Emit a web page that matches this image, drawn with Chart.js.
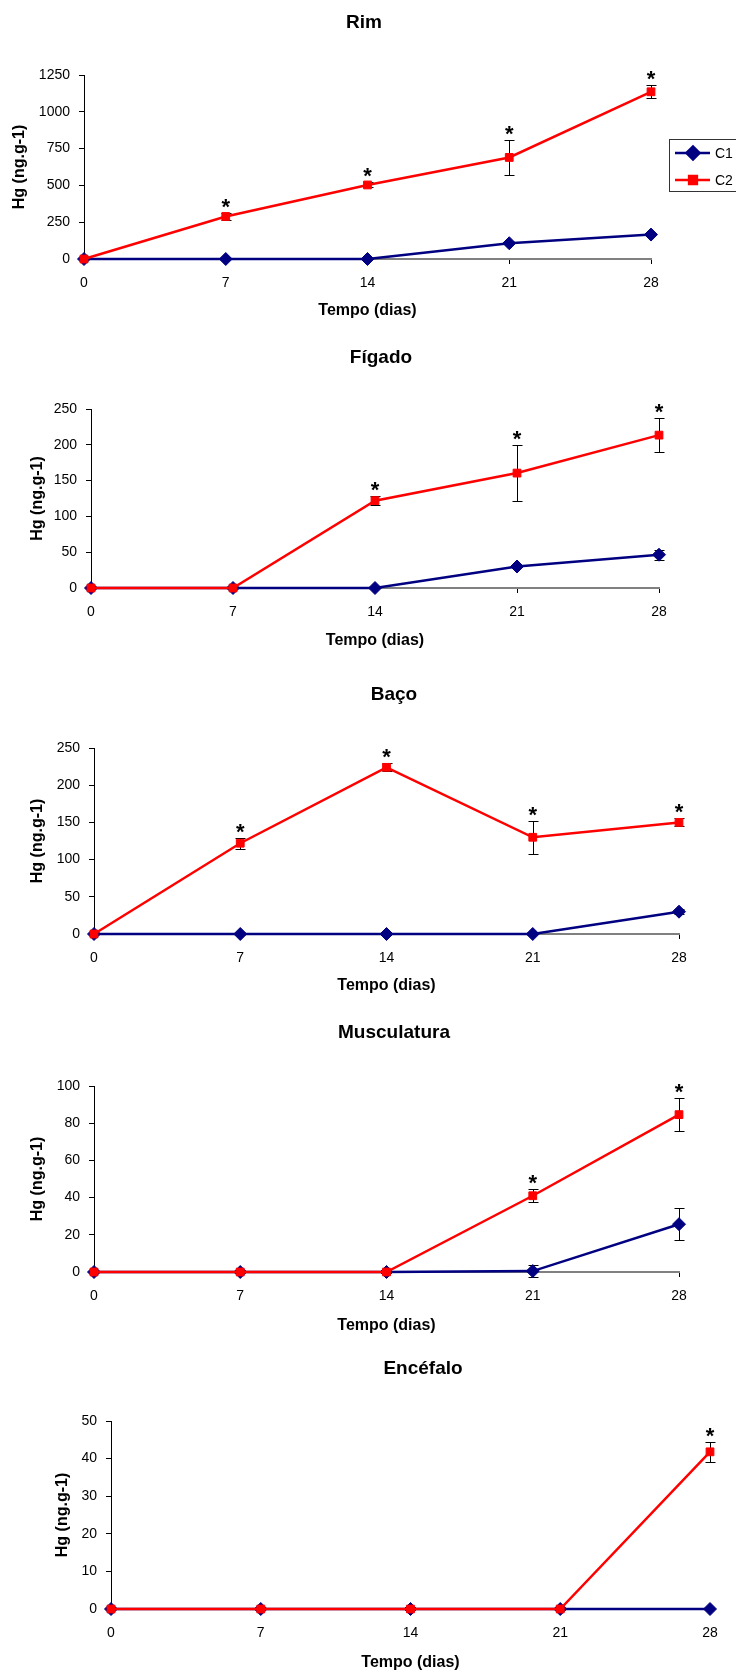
<!DOCTYPE html>
<html>
<head>
<meta charset="utf-8">
<script src="https://cdn.jsdelivr.net/npm/chart.js@4.4.1/dist/chart.umd.min.js"></script>
<style>
  html, body { margin: 0; padding: 0; background: #fff; }
  #page { position: relative; width: 736px; height: 1671px; overflow: hidden; }
  #page canvas { position: absolute; left: 0; }
</style>
</head>
<body>
<div id="page">
  <canvas id="rim"></canvas>
  <canvas id="figado"></canvas>
  <canvas id="baco"></canvas>
  <canvas id="musc"></canvas>
  <canvas id="encef"></canvas>
</div>
<script>
const days = ['0', '7', '14', '21', '28'];

// Rim
const rimC1 = [0, 0, 0, 107, 166];
const rimC2 = [0, 289, 503, 690, 1136];
const rimErr1 = [0, 0, 0, 0, 0];
const rimErr2 = [0, 23, 17, 118, 43];
const rimStars = [false, true, true, true, true];
const rimTicks = [0, 250, 500, 750, 1000, 1250];

// Fígado
const figC1 = [0, 0, 0, 30, 46.5];
const figC2 = [0, 0, 122, 160.5, 213.5];
const figErr1 = [0, 0, 0, 0, 7];
const figErr2 = [0, 0, 6.5, 39, 24];
const figStars = [false, false, true, true, true];
const figTicks = [0, 50, 100, 150, 200, 250];

// Baço
const bacC1 = [0, 0, 0, 0, 30];
const bacC2 = [0, 122, 224, 130, 150];
const bacErr1 = [0, 0, 0, 0, 3];
const bacErr2 = [0, 7.5, 5.5, 22.5, 5.5];
const bacStars = [false, true, true, true, true];
const bacTicks = [0, 50, 100, 150, 200, 250];

// Musculatura
const musC1 = [0, 0, 0, 0.5, 25.7];
const musC2 = [0, 0, 0, 41, 84.6];
const musErr1 = [0, 0, 0, 3.4, 8.5];
const musErr2 = [0, 0, 0, 3.5, 8.9];
const musStars = [false, false, false, true, true];
const musTicks = [0, 20, 40, 60, 80, 100];

// Encéfalo
const encC1 = [0, 0, 0, 0, 0];
const encC2 = [0, 0, 0, 0, 41.8];
const encErr1 = [0, 0, 0, 0, 0];
const encErr2 = [0, 0, 0, 0, 2.7];
const encStars = [false, false, false, false, true];
const encTicks = [0, 10, 20, 30, 40, 50];

const seriesNames = ['C1', 'C2'];
const NAVY = '#000080';
const RED = '#ff0000';
const FONT = "'Liberation Sans', Arial, sans-serif";

Chart.defaults.font.family = FONT;
Chart.defaults.color = '#000';

// error bars under the markers, asterisks above them
const errorBars = {
    id: 'errorBars',
    beforeDatasetsDraw(chart) {
        const { ctx, scales: { x, y } } = chart;
        ctx.save();
        ctx.strokeStyle = '#000';
        ctx.lineWidth = 1;
        chart.data.datasets.forEach((ds) => {
            (ds.errors || []).forEach((e, i) => {
                if (!e) return;
                const px = Math.round(x.getPixelForValue(i)) + 0.5;
                const top = Math.round(y.getPixelForValue(ds.data[i] + e)) + 0.5;
                const bot = Math.round(y.getPixelForValue(ds.data[i] - e)) + 0.5;
                ctx.beginPath();
                ctx.moveTo(px, top); ctx.lineTo(px, bot);
                ctx.moveTo(px - 5, top); ctx.lineTo(px + 5, top);
                ctx.moveTo(px - 5, bot); ctx.lineTo(px + 5, bot);
                ctx.stroke();
            });
        });
        ctx.restore();
    },
    afterDatasetsDraw(chart) {
        const { ctx, scales: { x, y } } = chart;
        ctx.save();
        ctx.fillStyle = '#000';
        ctx.font = 'bold 22px ' + FONT;
        ctx.textAlign = 'center';
        ctx.textBaseline = 'alphabetic';
        chart.data.datasets.forEach((ds) => {
            (ds.stars || []).forEach((s, i) => {
                if (!s) return;
                const e = (ds.errors && ds.errors[i]) || 0;
                ctx.fillText('*', x.getPixelForValue(i), y.getPixelForValue(ds.data[i] + e) + 1);
            });
        });
        ctx.restore();
    },
};

// boxed legend with line + marker, like the spreadsheet one
const boxLegend = {
    id: 'boxLegend',
    afterDraw(chart, args, opts) {
        if (!opts.show) return;
        const { ctx } = chart;
        const { left, top, bottom } = opts;
        ctx.save();
        ctx.strokeStyle = '#333';
        ctx.lineWidth = 1;
        ctx.strokeRect(left + 0.5, top + 0.5, 100, bottom - top);
        chart.data.datasets.forEach((ds, i) => {
            const yy = opts.rows[i];
            ctx.strokeStyle = ds.borderColor;
            ctx.lineWidth = 2.5;
            ctx.beginPath();
            ctx.moveTo(left + 6, yy);
            ctx.lineTo(left + 41, yy);
            ctx.stroke();
            ctx.fillStyle = ds.borderColor;
            Chart.helpers.drawPoint(ctx, {
                pointStyle: ds.pointStyle,
                radius: ds.pointRadius,
                borderWidth: 1,
                rotation: 0,
            }, left + 24, yy);
            ctx.fillStyle = '#000';
            ctx.font = '14px ' + FONT;
            ctx.textAlign = 'left';
            ctx.textBaseline = 'middle';
            ctx.fillText(ds.label, left + 46, yy + 1);
        });
        ctx.restore();
    },
};

const W = 900;

function makeChart(id, p) {
    const canvas = document.getElementById(id);
    canvas.width = W;
    canvas.height = p.cH;
    canvas.style.top = p.cTop + 'px';

    const titleLH = 19 * 1.2;
    const axisLH = 16 * 1.2;
    const padRight = W - 2 * p.titleX;

    return new Chart(canvas.getContext('2d'), {
        type: 'line',
        data: {
            labels: days,
            datasets: [
                {
                    label: seriesNames[0],
                    data: p.c1,
                    errors: p.err1,
                    borderColor: NAVY,
                    backgroundColor: NAVY,
                    borderWidth: 2.5,
                    pointStyle: 'rectRot',
                    pointRadius: 6.5,
                    pointBorderWidth: 1,
                    tension: 0,
                    clip: false,
                    order: 1,
                },
                {
                    label: seriesNames[1],
                    data: p.c2,
                    errors: p.err2,
                    stars: p.stars,
                    borderColor: RED,
                    backgroundColor: RED,
                    borderWidth: 2.5,
                    pointStyle: 'rect',
                    pointRadius: 5.5,
                    pointBorderWidth: 1,
                    tension: 0,
                    clip: false,
                    order: 0,
                },
            ],
        },
        options: {
            responsive: false,
            devicePixelRatio: 1,
            animation: false,
            layout: {
                padding: { left: 0, right: padRight, top: 0, bottom: 0 },
            },
            plugins: {
                legend: { display: false },
                tooltip: { enabled: false },
                title: {
                    display: true,
                    text: p.title,
                    color: '#000',
                    font: { size: 19, weight: 'bold', family: FONT },
                    padding: {
                        top: p.titleY - p.cTop - titleLH / 2,
                        bottom: p.T - p.titleY - titleLH / 2,
                    },
                },
                boxLegend: p.legend || { show: false },
            },
            scales: {
                x: {
                    type: 'category',
                    offset: false,
                    afterFit: (s) => { s.height = p.cTop + p.cH - p.B; },
                    grid: {
                        drawOnChartArea: false,
                        drawTicks: true,
                        tickLength: 5,
                        color: '#000',
                        offset: false,
                    },
                    border: { display: true, color: '#808080', width: 2 },
                    ticks: {
                        color: '#000',
                        padding: 10.6,
                        maxRotation: 0,
                        font: { size: 14 },
                    },
                    title: {
                        display: true,
                        text: 'Tempo (dias)',
                        color: '#000',
                        font: { size: 16, weight: 'bold' },
                        padding: { top: 0, bottom: p.cTop + p.cH - p.xTitleY - axisLH / 2 },
                    },
                },
                y: {
                    type: 'linear',
                    min: 0,
                    max: p.ticks[p.ticks.length - 1],
                    afterBuildTicks: (s) => { s.ticks = p.ticks.map((v) => ({ value: v })); },
                    afterFit: (s) => { s.width = p.L; },
                    grid: {
                        drawOnChartArea: false,
                        drawTicks: true,
                        tickLength: 5,
                        color: '#000',
                    },
                    border: { display: true, color: '#000', width: 1 },
                    ticks: {
                        color: '#000',
                        padding: 9,
                        font: { size: 14 },
                        callback: (value) => String(value),
                    },
                    title: {
                        display: true,
                        text: 'Hg (ng.g-1)',
                        color: '#000',
                        font: { size: 16, weight: 'bold' },
                        padding: { top: p.yTitleX - axisLH / 2, bottom: 0 },
                    },
                },
                // empty right-hand box so the title centre and plot width can differ
                spacer: {
                    type: 'linear',
                    position: 'right',
                    display: true,
                    afterFit: (s) => { s.width = 2 * p.titleX - p.R; },
                    grid: { display: false },
                    border: { display: false },
                    ticks: { display: false },
                },
            },
        },
        plugins: [errorBars, boxLegend],
    });
}

makeChart('rim', {
    title: 'Rim', c1: rimC1, c2: rimC2, err1: rimErr1, err2: rimErr2, stars: rimStars, ticks: rimTicks,
    cTop: 0, cH: 330, L: 84, R: 651, T: 75, B: 259,
    titleX: 364, titleY: 23, yTitleX: 20, xTitleY: 311,
    legend: { show: true, left: 669, top: 139, bottom: 191, rows: [153, 180] },
});
makeChart('figado', {
    title: 'Fígado', c1: figC1, c2: figC2, err1: figErr1, err2: figErr2, stars: figStars, ticks: figTicks,
    cTop: 330, cH: 335, L: 91, R: 659, T: 409, B: 588,
    titleX: 381, titleY: 358, yTitleX: 38, xTitleY: 641,
});
makeChart('baco', {
    title: 'Baço', c1: bacC1, c2: bacC2, err1: bacErr1, err2: bacErr2, stars: bacStars, ticks: bacTicks,
    cTop: 665, cH: 335, L: 94, R: 679, T: 748, B: 934,
    titleX: 394, titleY: 695, yTitleX: 38, xTitleY: 986,
});
makeChart('musc', {
    title: 'Musculatura', c1: musC1, c2: musC2, err1: musErr1, err2: musErr2, stars: musStars, ticks: musTicks,
    cTop: 1000, cH: 340, L: 94, R: 679, T: 1086, B: 1272,
    titleX: 394, titleY: 1033, yTitleX: 38, xTitleY: 1326,
});
makeChart('encef', {
    title: 'Encéfalo', c1: encC1, c2: encC2, err1: encErr1, err2: encErr2, stars: encStars, ticks: encTicks,
    cTop: 1340, cH: 335, L: 111, R: 710, T: 1421, B: 1609,
    titleX: 423, titleY: 1369, yTitleX: 63, xTitleY: 1663,
});
</script>
</body>
</html>
